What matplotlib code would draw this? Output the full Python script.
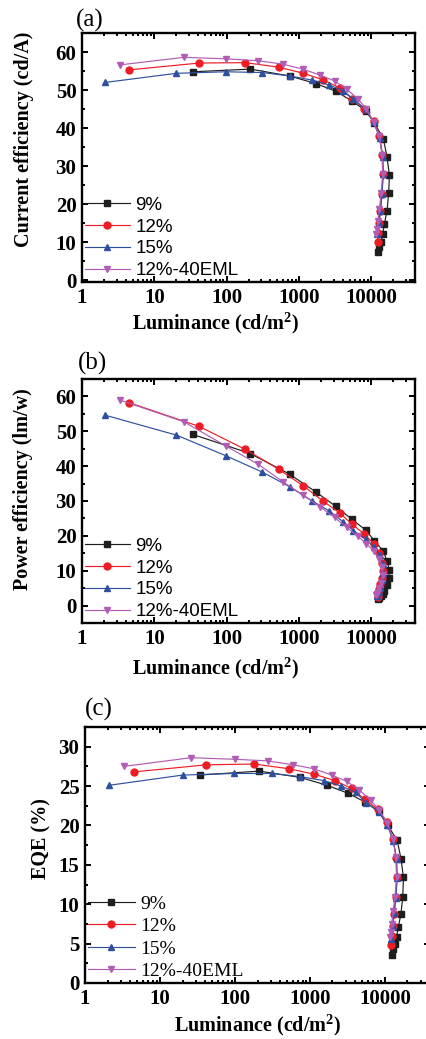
import numpy as np
import matplotlib
matplotlib.use('Agg')
import matplotlib.pyplot as plt
from matplotlib import ticker

# luminance (cd/m2) of every point, shared by the three panels
lum_9 = [34, 212, 740, 1700, 3200, 5400, 8300, 11000, 14600, 16400, 17700, 17300, 16400, 15100, 14300, 13600, 12900, 12500]
lum_12 = [4.5, 41.5, 181, 525, 1150, 2130, 3630, 5400, 8000, 10800, 12800, 14200, 14500, 13900, 13300, 12700, 12300, 12200]
lum_15 = [2.1, 20.2, 97, 310, 740, 1520, 2630, 4070, 5640, 8300, 10700, 13000, 14300, 14600, 14000, 13300, 12700, 12000]
lum_40 = [3.3, 25.8, 99, 274, 598, 1130, 1960, 3090, 4560, 6480, 8480, 10800, 12900, 14000, 14300, 13600, 12900, 12300, 11900, 11600]

# (a) current efficiency (cd/A)
ce_9 = [54.8, 55.5, 53.7, 51.7, 49.7, 47.1, 44.6, 41.3, 37.2, 32.5, 27.6, 22.8, 18.1, 14.8, 12.2, 10.1, 8.6, 7.3]
ce_12 = [55.3, 57.1, 57.2, 56.0, 54.4, 52.7, 50.6, 47.7, 45.1, 41.8, 37.9, 33.0, 27.8, 22.7, 18.3, 15.0, 12.3, 9.9]
ce_15 = [52.0, 54.4, 54.8, 54.6, 53.7, 52.6, 51.3, 49.8, 47.6, 45.0, 41.5, 37.5, 32.5, 28.0, 22.6, 18.2, 15.1, 12.0]
ce_40 = [56.6, 58.6, 58.2, 57.7, 56.8, 55.5, 53.9, 52.4, 50.2, 47.7, 45.1, 41.5, 37.8, 33.0, 27.9, 22.8, 18.8, 15.5, 13.4, 12.0]

# (b) power efficiency (lm/W)
pe_9 = [49.1, 43.6, 37.7, 32.6, 28.5, 24.7, 21.7, 18.6, 15.6, 12.8, 10.2, 7.8, 5.9, 4.3, 3.4, 2.7, 2.2, 1.8]
pe_12 = [58.2, 51.4, 44.8, 39.1, 34.3, 30.0, 26.6, 23.3, 20.5, 17.7, 15.0, 12.3, 10.0, 7.9, 6.1, 4.7, 3.5, 2.5]
pe_15 = [54.6, 48.9, 43.0, 38.3, 34.1, 30.0, 27.1, 24.0, 21.5, 19.1, 16.9, 14.5, 11.9, 9.4, 7.2, 5.0, 3.8, 2.8]
pe_40 = [59.0, 52.7, 45.7, 40.5, 35.5, 31.7, 28.3, 25.3, 22.4, 19.9, 17.8, 15.6, 13.4, 11.2, 8.8, 6.6, 5.0, 4.0, 3.4, 2.9]

# (c) EQE (%)
eqe_9 = [26.4, 26.9, 26.1, 25.1, 24.1, 23.0, 21.8, 20.0, 18.1, 15.8, 13.4, 10.9, 8.8, 7.1, 5.8, 4.9, 4.3, 3.6]
eqe_12 = [26.8, 27.7, 27.8, 27.2, 26.5, 25.7, 24.7, 23.3, 22.1, 20.4, 18.3, 15.9, 13.4, 10.9, 8.8, 7.2, 6.0, 4.8]
eqe_15 = [25.1, 26.4, 26.6, 26.6, 26.2, 25.7, 25.0, 24.2, 22.9, 21.7, 20.1, 18.0, 15.8, 13.3, 10.8, 8.9, 7.2, 5.6]
eqe_40 = [27.5, 28.6, 28.4, 28.2, 27.7, 27.2, 26.4, 25.6, 24.5, 23.2, 21.9, 20.3, 18.3, 16.0, 13.4, 10.9, 9.1, 7.5, 6.5, 5.8]

labels = ['9%', '12%', '15%', '12%-40EML']
colors = ['#1e1e1e', '#ee1c25', '#2f4f9f', '#b15cb5']
markers = ['s', 'o', '^', 'v']
lums = [lum_9, lum_12, lum_15, lum_40]

plt.rcParams['mathtext.fontset'] = 'custom'
plt.rcParams['mathtext.rm'] = 'Liberation Serif'
plt.rcParams['mathtext.bf'] = 'Liberation Serif:bold'

W, H = 427, 1039
fig = plt.figure(figsize=(W / 100, H / 100), dpi=100)

def px_axes(left, right, top, bottom):
    return fig.add_axes([left / W, 1 - bottom / H, (right - left) / W, (bottom - top) / H])

ax_a = px_axes(82, 415, 33, 282)
ax_b = px_axes(82, 415, 379, 623)
ax_c = px_axes(85, 430, 727, 983)

panels = [
    (ax_a, [ce_9, ce_12, ce_15, ce_40], 'Current efficiency (cd/A)', (-0.5, 65), 10, 5, '(a)', (76, 20)),
    (ax_b, [pe_9, pe_12, pe_15, pe_40], 'Power efficiency (lm/w)', (-5, 65), 10, 5, '(b)', (78, 363)),
    (ax_c, [eqe_9, eqe_12, eqe_15, eqe_40], 'EQE (%)', (0, 32.5), 5, 2.5, '(c)', (85, 709)),
]

serif = 'Liberation Serif'
for ax, ys, ylab, ylim, ymaj, ymin, tag, tagpos in panels:
    for lum, y, lab, c, mk in zip(lums, ys, labels, colors, markers):
        ax.plot(lum, y, color=c, marker=mk, markersize=5, linewidth=0.85, label=lab)
    ax.set_xscale('log')
    ax.set_xlim(1, 40000)
    ax.set_ylim(*ylim)
    ax.xaxis.set_major_locator(ticker.FixedLocator([1, 10, 100, 1000, 10000]))
    ax.xaxis.set_major_formatter(ticker.FuncFormatter(lambda v, p: '%d' % v))
    ax.xaxis.set_minor_locator(ticker.LogLocator(base=10, subs=np.arange(2, 10), numticks=20))
    ax.xaxis.set_minor_formatter(ticker.NullFormatter())
    ax.yaxis.set_major_locator(ticker.MultipleLocator(ymaj))
    ax.yaxis.set_minor_locator(ticker.MultipleLocator(ymin))
    ax.tick_params(which='both', direction='in', top=True, right=True, width=1.4)
    ax.tick_params(which='major', length=4.5, pad=4)
    ax.tick_params(which='minor', length=2.5)
    for lbl in ax.get_xticklabels() + ax.get_yticklabels():
        lbl.set_fontfamily(serif)
        lbl.set_fontweight('bold')
        lbl.set_fontsize(15)
    for sp in ax.spines.values():
        sp.set_linewidth(1.7)
    ax.set_ylabel(ylab, fontfamily=serif, fontweight='bold', fontsize=14.5)
    ax.set_xlabel(r'Luminance (cd/m$^{\mathbf{2}}$)', fontfamily=serif, fontweight='bold', fontsize=14.5)
    fig.text(tagpos[0] / W, 1 - tagpos[1] / H, tag, fontfamily=serif, fontsize=18, ha='left', va='center')

ax_a.yaxis.set_label_coords(-0.144, 0.574)
ax_a.xaxis.set_label_coords(0.402, -0.112)
ax_b.yaxis.set_label_coords(-0.147, 0.549)
ax_b.xaxis.set_label_coords(0.402, -0.131)
ax_c.yaxis.set_label_coords(-0.096, 0.565)
ax_c.xaxis.set_label_coords(0.501, -0.114)

for ax, fam, fs in [(ax_a, 'Liberation Sans', 13.5), (ax_b, 'Liberation Sans', 13.5), (ax_c, serif, 14)]:
    ax.legend(loc='lower left', bbox_to_anchor=(0, 0), frameon=False, borderaxespad=0, borderpad=0.15,
              handlelength=2.4, handletextpad=0.3, labelspacing=0.25,
              prop={'family': fam, 'size': fs})

fig.savefig('out.png', dpi=100)
